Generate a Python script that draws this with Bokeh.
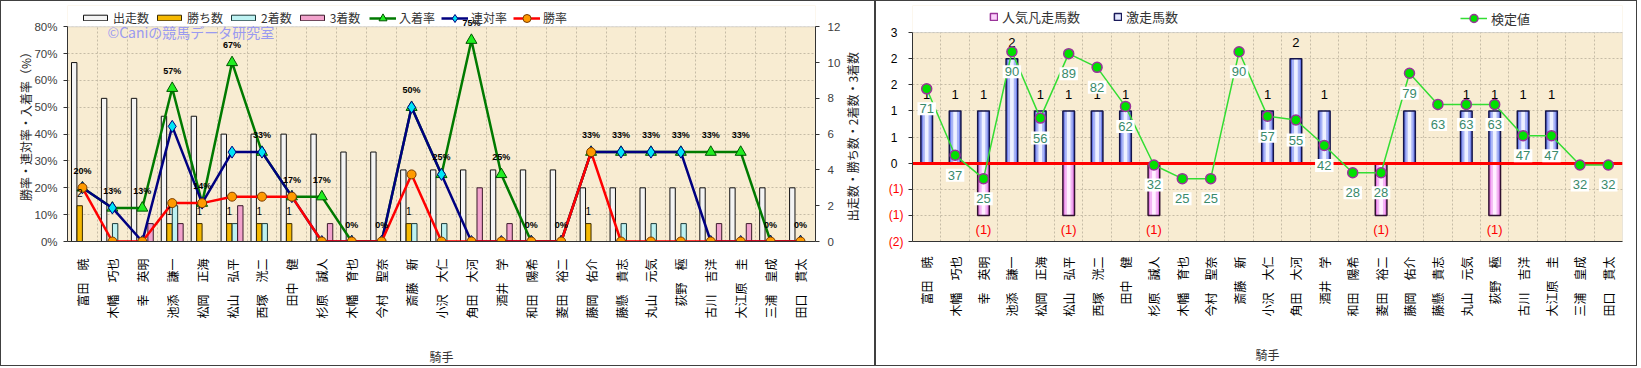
import math
from bokeh.plotting import figure
from bokeh.models import (ColumnDataSource, FactorRange, Range1d, LinearAxis, FixedTicker,
                          PrintfTickFormatter, Legend, LegendItem, Label, LabelSet, BoxAnnotation)
from bokeh.transform import dodge
from bokeh.layouts import row
from bokeh.embed import file_html
from bokeh.resources import INLINE
from bokeh.core.properties import value

# ---------------- data ----------------
jockeys = ["富田　暁", "木幡　巧也", "幸　英明", "池添　謙一", "松岡　正海", "松山　弘平", "西塚　洸二",
           "田中　健", "杉原　誠人", "木幡　育也", "今村　聖奈", "斎藤　新", "小沢　大仁", "角田　大河",
           "酒井　学", "和田　陽希", "菱田　裕二", "藤岡　佑介", "藤懸　貴志", "丸山　元気", "荻野　極",
           "古川　吉洋", "大江原　圭", "三浦　皇成", "田口　貫太"]
starts = [10, 8, 8, 7, 7, 6, 6, 6, 6, 5, 5, 4, 4, 4, 4, 4, 4, 3, 3, 3, 3, 3, 3, 3, 3]
wins = [2, 0, 0, 1, 1, 1, 1, 1, 0, 0, 0, 1, 0, 0, 0, 0, 0, 1, 0, 0, 0, 0, 0, 0, 0]
seconds = [0, 1, 0, 2, 0, 1, 1, 0, 0, 0, 0, 1, 1, 0, 0, 0, 0, 0, 1, 1, 1, 0, 0, 0, 0]
thirds = [0, 0, 1, 1, 0, 2, 0, 0, 1, 0, 0, 0, 0, 3, 1, 0, 0, 0, 0, 0, 0, 1, 1, 0, 0]
win_rate = [20.0, 0, 0, 14.3, 14.3, 16.7, 16.7, 16.7, 0, 0, 0, 25.0, 0, 0, 0, 0, 0,
            33.3, 0, 0, 0, 0, 0, 0, 0]
rentai_rate = [20.0, 12.5, 0, 42.9, 14.3, 33.3, 33.3, 16.7, 0, 0, 0, 50.0, 25.0, 0, 0, 0, 0,
               33.3, 33.3, 33.3, 33.3, 0, 0, 0, 0]
place_rate = [20.0, 12.5, 12.5, 57.1, 14.3, 66.7, 33.3, 16.7, 16.7, 0, 0, 50.0, 25.0, 75.0, 25.0,
              0, 0, 33.3, 33.3, 33.3, 33.3, 33.3, 33.3, 0, 0]
pct_ticks = [0, 10, 20, 30, 40, 50, 60, 70, 80]
count_ticks = [0, 2, 4, 6, 8, 10, 12]

gekiso = [1, 1, 1, 2, 1, 1, 1, 1, 0, 0, 0, 0, 1, 2, 1, 0, 0, 1, 0, 1, 1, 1, 1, 0, 0]
bonso = [0, 0, 1, 0, 0, 1, 0, 0, 1, 0, 0, 0, 0, 0, 0, 0, 1, 0, 0, 0, 1, 0, 0, 0, 0]
kentei = [71, 37, 25, 90, 56, 89, 82, 62, 32, 25, 25, 90, 57, 55, 42, 28, 28, 79, 63, 63, 63,
          47, 47, 32, 32]
r_ticks = [-1.5, -1.0, -0.5, 0.0, 0.5, 1.0, 1.5, 2.0, 2.5]
r_tick_labels = ["(2)", "(1)", "(1)", "0", "1", "1", "2", "2", "3"]
score_span = (-7.2, 99.8)

JP = "Noto Sans CJK JP"
LAT = "Liberation Sans"
BG = "#f8ecd2"
GRID = "#c6bca6"
BCOL = "1px solid #404040"

# ================= left chart =================
L_TOP, L_FRAME_H, L_PLOT_H, L_BOTTOM = 2, 244, 222, 120
ext1 = L_FRAME_H / L_PLOT_H
p1 = figure(x_range=FactorRange(factors=jockeys), y_range=Range1d(0, pct_ticks[-1] * ext1),
            width=844, height=366,
            min_border_left=66, min_border_right=30, min_border_top=L_TOP,
            min_border_bottom=L_BOTTOM,
            output_backend="svg", toolbar_location=None,
            background_fill_color=BG, border_fill_color="white", outline_line_color=None,
            styles={"border-left": BCOL, "border-top": BCOL, "border-bottom": BCOL})
p1.extra_y_ranges = {"cnt": Range1d(0, count_ticks[-1] * ext1)}
p1.add_layout(BoxAnnotation(bottom=pct_ticks[-1], fill_color="white", fill_alpha=1,
                            line_alpha=0, level="underlay"))
p1.add_layout(BoxAnnotation(bottom=0, top=pct_ticks[-1], fill_alpha=0, line_color="#8c8c8c",
                            line_width=1, level="underlay"))

src1 = ColumnDataSource(dict(x=jockeys, starts=starts, wins=wins, seconds=seconds, thirds=thirds,
                             win=win_rate, rentai=rentai_rate, place=place_rate,
                             place_lbl=[f"{int(v + 0.5)}%" for v in place_rate]))
bw = 0.18
r_st = p1.vbar(x=dodge("x", -0.276, range=p1.x_range), top="starts", width=bw, y_range_name="cnt",
               source=src1, fill_color="#f4f4f4", line_color="#111111", line_width=1)
r_wi = p1.vbar(x=dodge("x", -0.092, range=p1.x_range), top="wins", width=bw, y_range_name="cnt",
               source=src1, fill_color="#f5b800", line_color="#3a2a00", line_width=1)
r_se = p1.vbar(x=dodge("x", 0.092, range=p1.x_range), top="seconds", width=bw, y_range_name="cnt",
               source=src1, fill_color="#bdf2f2", line_color="#1a3a3a", line_width=1)
r_th = p1.vbar(x=dodge("x", 0.276, range=p1.x_range), top="thirds", width=bw, y_range_name="cnt",
               source=src1, fill_color="#f2a2cc", line_color="#3a1a2a", line_width=1)

r_gl = p1.line("x", "place", source=src1, line_color="#007a00", line_width=2.5)
r_gm = p1.scatter("x", "place", source=src1, marker="triangle", size=11,
                  fill_color="#22ee22", line_color="#005500", line_width=1)
r_nl = p1.line("x", "rentai", source=src1, line_color="#000080", line_width=2.5)
r_nm = p1.scatter("x", "rentai", source=src1, marker="diamond", size=12,
                  fill_color="#00e5f5", line_color="#000080", line_width=1)
r_rl = p1.line("x", "win", source=src1, line_color="#ff0000", line_width=2.5)
r_rm = p1.scatter("x", "win", source=src1, marker="circle", size=9,
                  fill_color="#ff9a00", line_color="#7a3c00", line_width=1)

p1.add_layout(LabelSet(x="x", y="place", text="place_lbl", source=src1, y_offset=17,
                       text_align="center", text_baseline="middle", text_font=value(LAT),
                       text_font_style="bold", text_font_size="9px", text_color="black"))
w_idx = [i for i, w in enumerate(wins) if w > 0]
src_w = ColumnDataSource(dict(x=[jockeys[i] for i in w_idx], y=[wins[i] for i in w_idx],
                              t=[str(wins[i]) for i in w_idx]))
p1.add_layout(LabelSet(x=dodge("x", -0.092, range=p1.x_range), y="y", text="t", source=src_w,
                       y_range_name="cnt", y_offset=13, text_align="center", text_baseline="middle",
                       text_font=value(LAT), text_font_size="10px", text_color="black"))

p1.add_layout(Label(x=40, y=210, x_units="screen", y_units="screen",
                    text="©Caniの競馬データ研究室", text_font=JP, text_font_size="14px",
                    text_color="#9a9af0", text_align="left", text_baseline="middle"))

leg_bars = Legend(items=[LegendItem(label="出走数", renderers=[r_st]),
                         LegendItem(label="勝ち数", renderers=[r_wi]),
                         LegendItem(label="2着数", renderers=[r_se]),
                         LegendItem(label="3着数", renderers=[r_th])],
                  orientation="horizontal", location=(13, 215.5),
                  glyph_width=30, glyph_height=7, label_height=7, label_standoff=3, spacing=5,
                  padding=0, margin=0, border_line_color=None, background_fill_alpha=0,
                  label_text_font=JP, label_text_font_size="12px", label_text_color="#333333")
leg_lines = Legend(items=[LegendItem(label="入着率", renderers=[r_gl, r_gm]),
                          LegendItem(label="連対率", renderers=[r_nl, r_nm]),
                          LegendItem(label="勝率", renderers=[r_rl, r_rm])],
                   orientation="horizontal", location=(302, 213.2),
                   glyph_width=27, glyph_height=20, label_height=20, label_standoff=3, spacing=6,
                   padding=0, margin=0, border_line_color=None, background_fill_alpha=0,
                   label_text_font=JP, label_text_font_size="12px", label_text_color="#333333")
p1.add_layout(leg_bars)
p1.add_layout(leg_lines)

ay1 = p1.yaxis[0]
ay1.ticker = FixedTicker(ticks=pct_ticks)
ay1.bounds = (pct_ticks[0], pct_ticks[-1])
ay1.formatter = PrintfTickFormatter(format="%d%%")
ay1r = LinearAxis(y_range_name="cnt", ticker=FixedTicker(ticks=count_ticks),
                  bounds=(count_ticks[0], count_ticks[-1]))
p1.add_layout(ay1r, "right")
for ax in (ay1, ay1r):
    ax.major_tick_out = 4
    ax.major_tick_in = 0
    ax.minor_tick_line_color = None
    ax.major_tick_line_color = "#333333"
    ax.axis_line_color = "#333333"
    ax.major_label_text_font = LAT
    ax.major_label_text_font_size = "11.5px"
    ax.major_label_text_color = "#404040"
ay1.major_label_standoff = 6
ay1r.major_label_standoff = 8
ay1.axis_label = "勝率・連対率・入着率（%）"
ay1.axis_label_text_font = JP
ay1.axis_label_text_font_size = "12px"
ay1.axis_label_text_font_style = "normal"
ay1.axis_label_text_color = "#222222"
ay1.axis_label_standoff = -3
p1.ygrid.ticker = FixedTicker(ticks=pct_ticks)

# narrow strip holding the right-axis title of the left chart (reads bottom to top);
# its frame is given the same vertical extent as the left chart's frame
p_mid = figure(width=31, height=366, x_range=Range1d(0, 31), y_range=Range1d(0, L_FRAME_H),
               x_axis_type=None, y_axis_type=None,
               min_border_left=0, min_border_right=0, min_border_top=L_TOP,
               min_border_bottom=L_BOTTOM, output_backend="svg",
               toolbar_location=None, outline_line_color=None, background_fill_color="white",
               border_fill_color="white",
               styles={"border-right": BCOL, "border-top": BCOL, "border-bottom": BCOL})
p_mid.grid.visible = False
p_mid.text(x=[8], y=[L_TOP + L_FRAME_H - 137.5], text=["出走数・勝ち数・2着数・3着数"],
           angle=90, angle_units="deg", text_align="center", text_baseline="middle",
           text_font=value(JP), text_font_size="12px", text_color="#222222")

# ================= right chart =================
R_FRAME_H, R_PLOT_H = 244, 216
ext2 = R_FRAME_H / R_PLOT_H
r_lo, r_hi = r_ticks[0], r_ticks[-1]
p2 = figure(x_range=FactorRange(factors=jockeys), y_range=Range1d(r_lo, r_lo + (r_hi - r_lo) * ext2),
            width=762, height=366,
            min_border_left=36, min_border_right=16, min_border_top=4, min_border_bottom=118,
            output_backend="svg", toolbar_location=None,
            background_fill_color=BG, border_fill_color="white", outline_line_color=None,
            styles={"border": BCOL})
p2.extra_y_ranges = {"score": Range1d(score_span[0],
                                      score_span[0] + (score_span[1] - score_span[0]) * ext2)}
p2.add_layout(BoxAnnotation(bottom=r_hi, fill_color="white", fill_alpha=1, line_alpha=0,
                            level="underlay"))
p2.add_layout(BoxAnnotation(bottom=r_lo, top=r_hi, fill_alpha=0, line_color="#8c8c8c",
                            line_width=1, level="underlay"))

src2 = ColumnDataSource(dict(x=jockeys, geki=gekiso, bon_neg=[-b for b in bonso], score=kentei,
                             score_lbl=[str(v) for v in kentei]))
for w, col in [(0.41, "#6b7be8"), (0.28, "#aab5f6"), (0.13, "#eef1ff")]:
    p2.vbar(x="x", top="geki", bottom=0, width=w, source=src2, fill_color=col, line_color=None)
p2.vbar(x="x", top="geki", bottom=0, width=0.41, source=src2, fill_color=None,
        line_color="#14144a", line_width=1.5)
for w, col in [(0.41, "#e27ae2"), (0.28, "#f4b6f4"), (0.13, "#fff0ff")]:
    p2.vbar(x="x", top=0, bottom="bon_neg", width=w, source=src2, fill_color=col, line_color=None)
p2.vbar(x="x", top=0, bottom="bon_neg", width=0.41, source=src2, fill_color=None,
        line_color="#301030", line_width=1.5)

# legend-only renderers (zero size, hidden under the zero line)
d_pink = p2.vbar(x=[jockeys[0]], top=[0], bottom=[0], width=0, fill_color="#fbd0fb",
                 line_color="#993399", line_width=1.5)
d_blue = p2.vbar(x=[jockeys[0]], top=[0], bottom=[0], width=0, fill_color="#e4e8ff",
                 line_color="#1a1a5a", line_width=1.5)

g_idx = [i for i, g in enumerate(gekiso) if g > 0]
src_g = ColumnDataSource(dict(x=[jockeys[i] for i in g_idx], y=[gekiso[i] for i in g_idx],
                              t=[str(gekiso[i]) for i in g_idx]))
p2.text(x="x", y="y", text="t", source=src_g, y_offset=-16, text_align="center",
        text_baseline="middle", text_font=value(LAT), text_font_size="13px", text_color="black")
b_idx = [i for i, b in enumerate(bonso) if b > 0]
src_b = ColumnDataSource(dict(x=[jockeys[i] for i in b_idx], y=[-bonso[i] for i in b_idx],
                              t=[f"({bonso[i]})" for i in b_idx]))
p2.text(x="x", y="y", text="t", source=src_b, y_offset=14, text_align="center",
        text_baseline="middle", text_font=value(LAT), text_font_size="13px", text_color="#ff0000")

p2.hspan(y=[0], line_color="#ff0000", line_width=3)

r_kl = p2.line("x", "score", source=src2, y_range_name="score", line_color="#33dd33", line_width=1.5)
r_km = p2.scatter("x", "score", source=src2, y_range_name="score", marker="circle", size=10,
                  fill_color="#00e000", line_color="#993399", line_width=1.5)
p2.text(x="x", y="score", text="score_lbl", source=src2, y_range_name="score", y_offset=20,
        text_align="center", text_baseline="middle", text_font=value(LAT), text_font_size="13px",
        text_color="#3a8a6a", background_fill_color="white", padding=2)

legA = Legend(items=[LegendItem(label="人気凡走馬数", renderers=[d_pink]),
                     LegendItem(label="激走馬数", renderers=[d_blue])],
              orientation="horizontal", location=(77, 215.4),
              glyph_width=9, glyph_height=9, label_height=9, label_standoff=4, spacing=33,
              padding=0, margin=0, border_line_color=None, background_fill_alpha=0,
              label_text_font=JP, label_text_font_size="13px", label_text_color="#333333")
legB = Legend(items=[LegendItem(label="検定値", renderers=[r_kl, r_km])],
              orientation="horizontal", location=(548, 212.6),
              glyph_width=27, glyph_height=20, label_height=20, label_standoff=4,
              padding=0, margin=0, border_line_color=None, background_fill_alpha=0,
              label_text_font=JP, label_text_font_size="13px", label_text_color="#333333")
p2.add_layout(legA)
p2.add_layout(legB)

# inner left axis: red negative labels; outer left axis: black non-negative labels
ay2 = p2.yaxis[0]
ay2.ticker = FixedTicker(ticks=r_ticks)
ay2.bounds = (r_lo, r_hi)
ay2.major_label_overrides = {t: (lbl if t < 0 else "") for t, lbl in zip(r_ticks, r_tick_labels)}
ay2.major_tick_out = 4
ay2.major_tick_in = 0
ay2.minor_tick_line_color = None
ay2.major_tick_line_color = "#333333"
ay2.axis_line_color = "#333333"
ay2.major_label_text_font = LAT
ay2.major_label_text_font_size = "12px"
ay2.major_label_text_color = "#ff0000"
ay2.major_label_standoff = 5
ay2b = LinearAxis(ticker=FixedTicker(ticks=r_ticks), bounds=(r_lo, r_hi),
                  major_label_overrides={t: (lbl if t >= 0 else "")
                                         for t, lbl in zip(r_ticks, r_tick_labels)},
                  axis_line_color=None, major_tick_line_color=None, minor_tick_line_color=None,
                  major_tick_out=0, major_tick_in=0, minor_tick_out=0, minor_tick_in=0,
                  major_label_standoff=-12, major_label_text_font=LAT,
                  major_label_text_font_size="12px", major_label_text_color="black")
p2.add_layout(ay2b, "left")
p2.ygrid.ticker = FixedTicker(ticks=r_ticks)

# ---------- shared styling ----------
for p, standoff in ((p1, 11), (p2, 9)):
    p.xgrid.ticker = FixedTicker(ticks=list(range(1, len(jockeys))))
    p.grid.grid_line_color = GRID
    p.grid.grid_line_dash = "2 2"
    p.grid.grid_line_width = 1
    ax = p.xaxis[0]
    ax.major_label_orientation = math.pi / 2
    ax.major_label_text_font = JP
    ax.major_label_text_font_size = "12px"
    ax.major_label_text_color = "black"
    ax.major_label_standoff = standoff
    ax.major_tick_line_color = None
    ax.minor_tick_line_color = None
    ax.axis_line_color = "#333333"
    ax.axis_label = "騎手"
    ax.axis_label_text_font = JP
    ax.axis_label_text_font_size = "12px"
    ax.axis_label_text_font_style = "normal"
    ax.axis_label_text_color = "#333333"
    ax.axis_label_standoff = 26

layout = row(p1, p_mid, p2)
with open("out.html", "w", encoding="utf-8") as f:
    f.write(file_html(layout, INLINE))
